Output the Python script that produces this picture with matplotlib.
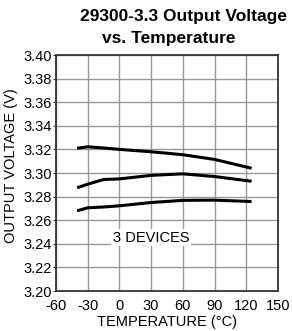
import matplotlib
matplotlib.use('Agg')
import matplotlib.pyplot as plt

plt.rcParams['font.family'] = ['Liberation Sans', 'DejaVu Sans']
plt.rcParams['axes.unicode_minus'] = False

# Données
temps = [-40, -30, -15, 0, 30, 60, 90, 125]
dev_high = [3.3210, 3.3222, 3.3212, 3.3200, 3.3180, 3.3155, 3.3115, 3.3040]
dev_mid = [3.2875, 3.2905, 3.2945, 3.2950, 3.2980, 3.2993, 3.2970, 3.2930]
dev_low = [3.2680, 3.2705, 3.2712, 3.2722, 3.2750, 3.2768, 3.2770, 3.2758]

xticks = [-60, -30, 0, 30, 60, 90, 120, 150]
yticks = [3.20, 3.22, 3.24, 3.26, 3.28, 3.30, 3.32, 3.34, 3.36, 3.38, 3.40]

fig = plt.figure(figsize=(2.92, 3.31), dpi=100)
ax = fig.add_axes([56 / 292, 1 - 291 / 331, 222 / 292, 236 / 331])

for v in [dev_high, dev_mid, dev_low]:
    ax.plot(temps, v, color='black', linewidth=2.2, solid_capstyle='butt')

ax.set_xlim(-60, 150)
ax.set_ylim(3.20, 3.40)
ax.set_xticks(xticks)
ax.set_yticks(yticks)
ax.set_yticklabels([f"{t:.2f}" for t in yticks])
ax.grid(True, color='#999999', linewidth=1)
ax.set_axisbelow(True)
ax.tick_params(axis='y', length=2, color='#333333', labelsize=10.5, pad=1)
ax.tick_params(axis='x', length=0, labelsize=10.5, pad=6)
for s in ax.spines.values():
    s.set_color('#333333')
    s.set_linewidth(1.3)

ax.text(30, 3.245, "3 DEVICES", ha='center', va='center', fontsize=10.5,
        bbox=dict(facecolor='white', edgecolor='none', pad=1))

ax.set_xlabel("TEMPERATURE (°C)", fontsize=10.5, labelpad=1)
ax.set_ylabel("OUTPUT VOLTAGE (V)", fontsize=10.5)
ax.yaxis.set_label_coords(-0.17, 0.53)

fig.text(184 / 292, 1 - 16 / 331, "29300-3.3 Output Voltage", ha='center', va='center',
         fontsize=12.5, fontweight='bold')
fig.text(169 / 292, 1 - 38 / 331, "vs. Temperature", ha='center', va='center',
         fontsize=12.5, fontweight='bold')

plt.savefig("out.png", dpi=100)
plt.close()
